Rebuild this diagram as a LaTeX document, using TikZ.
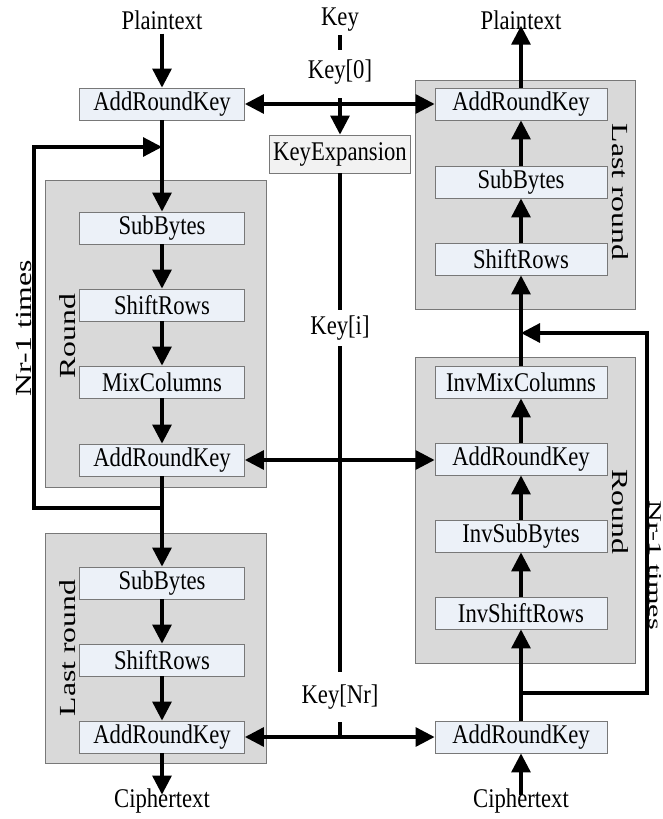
\documentclass[tikz,border=0pt]{standalone}
\usepackage{fontspec}
\setmainfont{Liberation Serif}[FakeStretch=0.84]
\newfontfamily\rotfont{Liberation Serif}[FakeStretch=1.38]
\newfontfamily\rotfontb{Liberation Serif}[FakeStretch=1.68]
\usetikzlibrary{arrows.meta}
\definecolor{boxfill}{RGB}{236,241,248}
\definecolor{grpfill}{RGB}{217,217,217}
\definecolor{grpline}{RGB}{120,120,120}
\definecolor{kefill}{RGB}{242,242,242}
\tikzset{
  opbox/.style={draw=grpline, line width=0.9pt, fill=boxfill, minimum height=32pt, inner sep=0pt, font=\fontsize{27}{29}\selectfont},
  lbox/.style={opbox, minimum width=165pt},
  rbox/.style={opbox, minimum width=172pt},
  kebox/.style={opbox, fill=kefill, minimum width=141pt, minimum height=38pt},
  grp/.style={draw=grpline, line width=0.9pt, fill=grpfill},
  lab/.style={inner sep=0pt, font=\fontsize{27}{29}\selectfont},
  rlab/.style={inner sep=0pt, anchor=base, font=\rotfont\fontsize{23}{25}\selectfont},
  conn/.style={line width=3.2pt},
  arr/.style={conn, -{Triangle[length=19pt,width=19pt]}},
  darr/.style={conn, {Triangle[length=19pt,width=19pt]}-{Triangle[length=19pt,width=19pt]}}
}
\begin{document}
\begin{tikzpicture}[x=1pt,y=-1pt]
\useasboundingbox (0,0) rectangle (662,819);
% groups
\draw[grp] (45,180) rectangle (266,487);
\draw[grp] (45,533) rectangle (266,763);
\draw[grp] (415,80) rectangle (635,309);
\draw[grp] (415,357) rectangle (635,663);
% left column
\node[lab] (lP) at (162,20) {Plaintext};
\node[lbox] (lA0) at (162,104) {AddRoundKey};
\node[lbox] (lS1) at (162,228) {SubBytes};
\node[lbox] (lR1) at (162,305) {ShiftRows};
\node[lbox] (lM1) at (162,382) {MixColumns};
\node[lbox] (lA1) at (162,460) {AddRoundKey};
\node[lbox] (lS2) at (162,583) {SubBytes};
\node[lbox] (lR2) at (162,660) {ShiftRows};
\node[lbox] (lA2) at (162,737) {AddRoundKey};
\node[lab] (lC) at (162,801) {Ciphertext};
% right column
\node[lab] (rP) at (521,20) {Plaintext};
\node[rbox] (rA0) at (521,104) {AddRoundKey};
\node[rbox] (rS) at (521,182) {SubBytes};
\node[rbox] (rR) at (521,259) {ShiftRows};
\node[rbox] (rM) at (521,382) {InvMixColumns};
\node[rbox] (rA1) at (521,459) {AddRoundKey};
\node[rbox] (rSB) at (521,536) {InvSubBytes};
\node[rbox] (rSR) at (521,613) {InvShiftRows};
\node[rbox] (rA2) at (521,737) {AddRoundKey};
\node[lab] (rC) at (521,801) {Ciphertext};
% middle
\node[lab] (K) at (340,20) {Key};
\node[lab] (K0) at (340,72) {Key[0]};
\node[kebox] (KE) at (340,154) {KeyExpansion};
\node[lab] (Ki) at (340,328) {Key[i]};
\node[lab] (KNr) at (340,697) {Key[Nr]};
% rotated labels
\node[rlab, rotate=90] (lNr) at (31,328) {Nr-1 times};
\node[rlab, rotate=90] (lRd) at (75,336) {Round};
\node[rlab, rotate=90] (lLr) at (75,648) {Last round};
\node[rlab, rotate=-90] (rLr) at (612,192) {Last round};
\node[rlab, rotate=-90] (rRd) at (612,512) {Round};
\node[rlab, rotate=-90, font=\rotfontb\fontsize{18}{20}\selectfont] (rNr) at (649,565) {Nr-1 times};
% coordinates
\coordinate (lj1) at (162,147);
\coordinate (lc1) at (34,147);
\coordinate (lc2) at (34,508);
\coordinate (lj2) at (162,508);
\coordinate (rj1) at (521,333);
\coordinate (rc1) at (647,333);
\coordinate (rc2) at (647,693);
\coordinate (rj2) at (521,693);
\coordinate (kt1) at (340,35);
\coordinate (kt2) at (340,50);
\coordinate (k0b) at (340,98);
\coordinate (keb) at (340,310);
\coordinate (kit) at (340,346);
\coordinate (kib) at (340,672);
\coordinate (knt) at (340,722);
\coordinate (knb) at (340,737);
% left connectors
\draw[arr] (lP.south) ++(0,4) -- (lA0.north);
\draw[arr] (lA0) -- (lS1);
\draw[arr] (lS1) -- (lR1);
\draw[arr] (lR1) -- (lM1);
\draw[arr] (lM1) -- (lA1);
\draw[arr] (lA1) -- (lS2);
\draw[arr] (lS2) -- (lR2);
\draw[arr] (lR2) -- (lA2);
\draw[arr] (lA2.south) -- ([yshift=-6pt]lC.north);
\draw[arr] (lj2) -- (lc2) -- (lc1) -- (lj1);
% right connectors
\draw[arr] (rA0.north) -- ([yshift=4pt]rP.south);
\draw[arr] (rS) -- (rA0);
\draw[arr] (rR) -- (rS);
\draw[arr] (rM) -- (rR);
\draw[arr] (rA1) -- (rM);
\draw[arr] (rSB) -- (rA1);
\draw[arr] (rSR) -- (rSB);
\draw[arr] (rA2) -- (rSR);
\draw[arr] ([yshift=-6pt]rC.north) -- (rA2.south);
\draw[arr] (rj2) -- (rc2) -- (rc1) -- (rj1);
% key connectors
\draw[conn] (kt1) -- (kt2);
\draw[darr] (lA0) -- (rA0);
\draw[arr] (k0b) -- (KE.north);
\draw[conn] (KE.south) -- (keb);
\draw[conn] (kit) -- (kib);
\draw[darr] (lA1.east) -- (lA1.east -| rA1.west);
\draw[conn] (knt) -- (knb);
\draw[darr] (lA2) -- (rA2);
\end{tikzpicture}
\end{document}
